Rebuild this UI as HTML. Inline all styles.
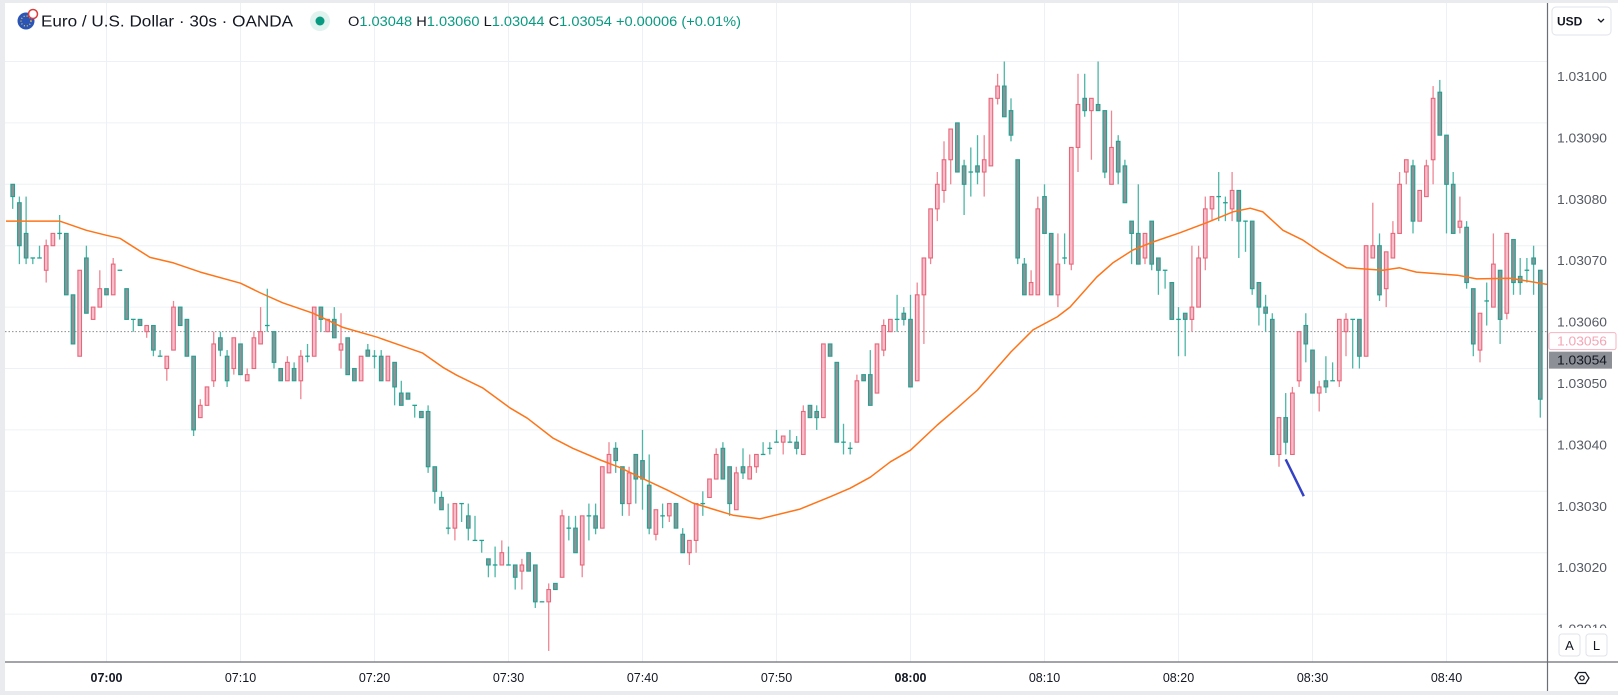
<!DOCTYPE html>
<html><head><meta charset="utf-8"><title>EUR/USD 30s</title>
<style>
html,body{margin:0;padding:0;background:#fff;}
svg{display:block;font-family:"Liberation Sans",sans-serif;}
</style></head>
<body>
<svg id="chart" width="1618" height="695" viewBox="0 0 1618 695" xmlns="http://www.w3.org/2000/svg">
  <rect x="0" y="0" width="1618" height="695" fill="#ffffff"/>
  <g id="grid"></g>
  <g id="plot" clip-path="url(#clipPlot)"></g>
  <defs><clipPath id="clipPlot"><rect x="5" y="3" width="1542.5" height="659"/></clipPath></defs>
  <g id="header">
    <g>
      <circle cx="26" cy="21" r="8.5" fill="#2b54b8"/>
      <circle cx="26" cy="21" r="5" fill="none" stroke="#ffd43b" stroke-width="1.2" stroke-dasharray="1 2"/>
      <circle cx="33" cy="14" r="4.5" fill="#fff" stroke="#e03b3b" stroke-width="1.5"/>
    </g>
    <text x="41" y="26.5" font-size="15.5" fill="#131722" textLength="252" lengthAdjust="spacingAndGlyphs">Euro / U.S. Dollar · 30s · OANDA</text>
    <circle cx="320" cy="21" r="10" fill="#e0f3ef"/>
    <circle cx="320" cy="21" r="4.5" fill="#089981"/>
    <text x="348" y="26" font-size="13.5" fill="#089981" textLength="393" lengthAdjust="spacingAndGlyphs"><tspan fill="#131722">O</tspan>1.03048 <tspan fill="#131722">H</tspan>1.03060 <tspan fill="#131722">L</tspan>1.03044 <tspan fill="#131722">C</tspan>1.03054 +0.00006 (+0.01%)</text>
  </g>
  <g id="axes"></g>
</svg>
<script>
// Price values are in 0.00001 units above 1.03000
const openV=[80,77,72,68,68,66,70,72,72,62,52,68,58,60,63,62,66,63,58,58,56,57,52,50,53,60,58,52,42,44,48,55,52,50,54,48,50,54,57,56,50,48,50,48,52,52,60,56,58,53,55,50,48,53,52,52,48,51,46,46,44,43,43,34,29,24,24,28,26,22,22,19,18,18,18,18,17,20,18,12,12,15,16,24,24,18,26,26,24,33,37,34,28,36,35,31,23,26,26,28,23,20,22,28,29,32,37,34,27,34,32,34,36,37,38,38,38,38,36,44,43,42,54,51,38,37,38,49,49,46,53,56,58,59,58,48,62,68,76,79,84,90,83,82,83,82,83,94,96,92,84,67,62,62,78,72,62,68,67,86,94,92,93,92,80,87,83,74,72,68,74,68,66,64,58,59,58,60,68,76,78,77,76,79,74,74,64,60,58,36,42,36,48,57,53,46,48,48,48,56,58,58,52,68,70,63,68,72,82,83,74,78,84,95,88,80,73,73,63,53,61,60,66,59,71,65,66,68,66];
const highV=[80,78,78,68,70,71,72,75,72,62,66,70,60,66,63,68,66,63,58,58,57,57,53,52,61,60,58,52,45,47,56,56,53,55,54,50,56,60,63,56,50,52,51,53,54,60,60,58,60,59,55,50,52,54,53,53,52,51,48,46,44,43,44,34,30,28,28,28,28,26,22,19,21,22,21,18,19,20,18,12,15,15,27,26,26,26,28,28,34,38,38,34,34,36,40,36,27,28,28,28,24,22,28,30,32,37,38,34,34,37,36,36,38,38,40,39,40,39,44,44,44,54,54,51,41,38,49,49,53,54,58,58,62,60,62,64,68,76,82,87,89,90,84,86,88,88,94,98,100,94,84,68,66,78,80,72,72,72,86,98,98,94,100,92,92,88,84,74,80,72,74,68,66,64,60,59,70,70,78,78,82,78,82,79,74,74,64,62,59,42,46,47,56,59,53,48,52,51,58,59,58,58,70,77,72,69,74,82,84,84,79,84,96,97,88,82,78,74,63,59,64,72,66,72,71,68,68,70,66];
const lowV=[76,67,67,67,68,64,70,71,62,54,52,59,58,60,62,62,66,58,56,57,55,52,52,48,53,57,52,39,42,44,47,52,47,49,49,48,50,54,56,50,48,48,48,45,51,52,56,56,55,50,49,48,48,52,50,48,48,44,44,45,42,42,33,28,27,23,22,25,22,22,20,16,16,18,18,14,14,17,11,12,4,14,16,22,20,16,22,23,24,33,33,26,26,28,27,23,22,24,25,24,20,18,20,26,29,32,32,26,27,32,32,33,36,36,38,36,38,36,36,42,40,42,52,38,36,36,38,48,44,46,52,56,56,57,47,48,54,67,74,77,80,82,75,78,80,78,83,93,91,87,67,62,62,62,72,62,60,67,66,82,91,84,92,81,80,80,77,67,67,67,66,62,63,58,52,52,56,60,66,74,74,74,74,68,69,62,57,56,36,34,36,36,47,51,46,43,46,48,47,52,50,50,52,68,61,60,68,72,80,72,74,78,80,88,72,72,72,63,52,51,57,60,54,58,62,62,64,62,42];
const closeV=[78,70,68,68,68,70,72,72,62,54,66,59,60,63,62,67,66,58,58,57,57,53,52,52,60,57,52,40,44,47,54,53,48,55,49,49,55,56,57,51,48,51,48,52,52,60,58,58,55,54,49,48,52,52,52,48,52,47,44,45,44,42,34,30,27,24,28,28,24,22,22,18,18,20,18,16,18,17,12,12,14,14,26,24,20,26,26,24,34,36,35,28,33,32,32,24,27,26,28,24,20,22,28,28,32,36,32,28,33,33,34,36,36,37,38,39,38,37,43,42,42,54,52,38,38,37,48,48,44,54,57,58,58,58,47,62,68,76,80,84,89,82,80,82,82,84,94,96,91,88,68,62,64,76,72,62,67,68,86,93,92,94,92,82,86,82,77,72,67,72,67,66,66,58,58,58,60,68,76,78,78,77,79,74,74,63,60,59,36,42,38,46,56,54,46,47,47,48,58,58,58,52,70,70,62,69,72,80,84,74,79,83,94,88,80,72,74,64,54,59,61,67,58,72,64,64,66,67,45];
// Moving average: candle index and value (same units)
const maIdx=[-1,7,11,14,16,20.5,24,28,34,37,40.3,44.8,49.3,54.4,57.8,61.2,64.2,66.3,70.2,74.2,76.8,80.6,83.6,87.7,90.6,93.6,97.7,101.5,104.5,107.5,111.5,117.5,122,125,128,131,134,138,141,144,149,152.3,155.9,157.8,161.8,164.2,167.2,170.2,174.2,178.3,182.1,184.7,186.6,189.6,192.6,195.1,199.1,204.5,207,209.5,215.6,218.5,223.5,229];
const maVal=[74.0,74.0,72.5,71.7,71.2,68.1,67.2,65.7,63.9,62.3,60.7,59.0,56.7,55.1,53.8,52.5,50.2,48.9,46.8,43.6,41.9,38.7,37.0,35.1,33.9,32.3,30.2,28.1,27.1,26.1,25.5,27.1,29.1,30.5,32.3,34.8,36.7,40.8,43.6,46.5,52.7,56.3,58.4,60.0,64.9,67.2,69.3,70.6,72.1,73.8,75.5,76.1,75.5,72.5,70.9,69.0,66.4,66.0,66.4,65.7,65.2,64.6,64.7,63.7];
const gridPrices=[10,20,30,40,50,60,70,80,90,100];
const timeLabels=["07:00","07:10","07:20","07:30","07:40","07:50","08:00","08:10","08:20","08:30","08:40"];
const firstLabelIdx=14, labelStep=20;
const lastPrice=56, currentPrice=54;
const trendIdx=[190,192.7], trendVal=[35.2,29.2];

const NS="http://www.w3.org/2000/svg";
const X0=12.7, DX=6.7, PLOT_R=1547.5, AXIS_Y=662;
function xi(i){return X0+i*DX;}
function yv(v){return 61.5+(100-v)*6.14;}
function fmt(v){return (1.03+v/1e5).toFixed(5);}
function mk(tag,attrs,parent){const e=document.createElementNS(NS,tag);for(const k in attrs)e.setAttribute(k,attrs[k]);parent.appendChild(e);return e;}

const grid=document.getElementById('grid'), plot=document.getElementById('plot'), axes=document.getElementById('axes');

// horizontal grid
gridPrices.forEach(p=>{
  const l=mk('line',{x1:5,x2:PLOT_R,y1:yv(p),y2:yv(p),stroke:'#edf0f4','stroke-width':1},grid);
  
  
});
// vertical grid
timeLabels.forEach((t,k)=>{
  const x=xi(firstLabelIdx+k*labelStep);
  const l=mk('line',{x1:x,x2:x,y1:3,y2:AXIS_Y,stroke:'#edf0f4','stroke-width':1},grid);
  
  
});

// last price dotted line
const dl=mk('line',{x1:5,x2:PLOT_R,y1:yv(lastPrice),y2:yv(lastPrice),stroke:'#8a8d93','stroke-width':1,'stroke-dasharray':'1.5 2'},plot);



// candles
for(let i=0;i<openV.length;i++){
  const o=openV[i],h=highV[i],l=lowV[i],c=closeV[i];
  const up=c>o;
  const g=mk('g',{},plot);
  
  
  const x=xi(i);
  const wickCol=up?'#ee8794':'#4db6a6', bodyStroke=up?'#e5677a':'#22a191', bodyFill=up?'#f8bccb':'#8e9196';
  if(h>l) mk('line',{x1:x,x2:x,y1:yv(h),y2:yv(l),stroke:wickCol,'stroke-width':1.3},g);
  const top=yv(Math.max(o,c)), bot=yv(Math.min(o,c));
  if(bot-top<1.5){
    mk('line',{x1:x-2.3,x2:x+2.3,y1:top,y2:top,stroke:bodyStroke,'stroke-width':1.3},g);
  } else {
    mk('rect',{x:x-1.8,y:top,width:3.6,height:bot-top,fill:bodyFill,stroke:bodyStroke,'stroke-width':1.1},g);
  }
}

// moving average
let d='';
maIdx.forEach((ix,k)=>{d+=(k?'L':'M')+xi(ix).toFixed(1)+' '+yv(maVal[k]).toFixed(1)+' ';});
const ma=mk('path',{d:d,fill:'none',stroke:'#ff7417','stroke-width':1.5,'stroke-linejoin':'round'},plot);



// trend line drawing
const tl=mk('line',{x1:xi(trendIdx[0]),y1:yv(trendVal[0]),x2:xi(trendIdx[1]),y2:yv(trendVal[1]),stroke:'#3342c4','stroke-width':2.5},plot);



// frame
const fr1=mk('rect',{x:0,y:0,width:5,height:695,fill:'#e9ebee'},axes);


const fr2=mk('rect',{x:0,y:0,width:1618,height:3,fill:'#e9ebee'},axes);


const fr3=mk('rect',{x:0,y:691,width:1618,height:4,fill:'#e9ebee'},axes);



// axis lines
const ax=mk('line',{x1:5,x2:1618,y1:AXIS_Y,y2:AXIS_Y,stroke:'#6b6e76','stroke-width':1.2},axes);


const ay=mk('line',{x1:PLOT_R,x2:PLOT_R,y1:3,y2:691,stroke:'#6b6e76','stroke-width':1.2},axes);



// price labels
gridPrices.forEach(p=>{
  const y=yv(p)+15;
  if(y>632) { // partially hidden label
    const t=mk('text',{x:1557,y:y+4+6,'font-size':12.5,fill:'#555a63'},axes);
    t.textContent=fmt(p);
    
    
    return;
  }
  const t=mk('text',{x:1557,y:y+4.5,'font-size':12.5,fill:'#555a63',textLength:50,lengthAdjust:'spacingAndGlyphs'},axes);
  t.textContent=fmt(p);
  
  
});
// cover for clipped bottom label
const cov=mk('rect',{x:1549,y:628,width:69,height:33,fill:'#ffffff'},axes);



// last price label (pink)
const lpY=yv(lastPrice)+1;
const lpb=mk('rect',{x:1549,y:lpY,width:67,height:17,fill:'#fff',stroke:'#f7b3c0','stroke-width':1,rx:2},axes);


const lpt=mk('text',{x:1557,y:lpY+13,'font-size':12.5,fill:'#f4a5b5',textLength:50,lengthAdjust:'spacingAndGlyphs'},axes);
lpt.textContent=fmt(lastPrice);


// current price label (dark)
const cpY=lpY+19;
const cpb=mk('rect',{x:1549,y:cpY,width:63,height:17,fill:'#8c8f95'},axes);


const cpt=mk('text',{x:1557,y:cpY+13,'font-size':12.5,fill:'#131722',textLength:50,lengthAdjust:'spacingAndGlyphs'},axes);
cpt.textContent=fmt(currentPrice);



// time labels
timeLabels.forEach((t,k)=>{
  const x=xi(firstLabelIdx+k*labelStep);
  const e=mk('text',{x:x,y:682,'font-size':12.5,'text-anchor':'middle',fill:'#131722','font-weight':t.endsWith(':00')?'bold':'normal'},axes);
  e.textContent=t;
  
  
});

// USD button
const ub=mk('rect',{x:1552,y:7,width:59,height:28,rx:4,fill:'#fff',stroke:'#e0e3eb','stroke-width':1},axes);


const ut=mk('text',{x:1557,y:25.5,'font-size':12,fill:'#131722','font-weight':'bold'},axes);
ut.textContent='USD';


const uc=mk('path',{d:'M1598 19 L1601 22 L1604 19',fill:'none',stroke:'#131722','stroke-width':1.3},axes);



// A and L buttons
[['A',1559],['L',1586]].forEach(([s,x])=>{
  const b=mk('rect',{x:x,y:634,width:21,height:22,rx:3,fill:'#fff',stroke:'#e0e3eb','stroke-width':1},axes);
  
  
  const t=mk('text',{x:x+10.5,y:650,'font-size':13,'text-anchor':'middle',fill:'#131722'},axes);
  t.textContent=s;
  
  
});

// eye/settings icon
const eg=mk('g',{},axes);


mk('path',{d:'M1575 678 L1578.5 672.5 L1585.5 672.5 L1589 678 L1585.5 683.5 L1578.5 683.5 Z',fill:'none',stroke:'#131722','stroke-width':1.2},eg);
mk('circle',{cx:1582,cy:678,r:2.2,fill:'none',stroke:'#131722','stroke-width':1.2},eg);
</script>
</body></html>
